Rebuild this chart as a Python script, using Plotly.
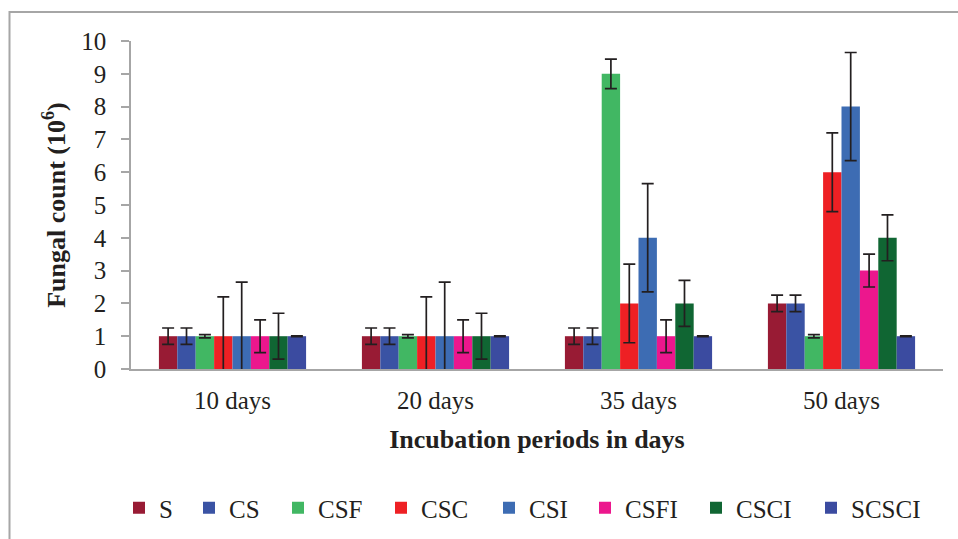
import plotly.graph_objects as go

categories = ["10 days", "20 days", "35 days", "50 days"]
series_names = ["S", "CS", "CSF", "CSC", "CSI", "CSFI", "CSCI", "SCSCI"]

S = [1, 1, 1, 2]
CS = [1, 1, 1, 2]
CSF = [1, 1, 9, 1]
CSC = [1, 1, 2, 6]
CSI = [1, 1, 4, 8]
CSFI = [1, 1, 1, 3]
CSCI = [1, 1, 2, 4]
SCSCI = [1, 1, 1, 1]

S_err = [0.25, 0.25, 0.25, 0.25]
CS_err = [0.25, 0.25, 0.25, 0.25]
CSF_err = [0.05, 0.05, 0.45, 0.05]
CSC_err = [1.2, 1.2, 1.2, 1.2]
CSI_err = [1.65, 1.65, 1.65, 1.65]
CSFI_err = [0.5, 0.5, 0.5, 0.5]
CSCI_err = [0.7, 0.7, 0.7, 0.7]
SCSCI_err = [0.01, 0.01, 0.01, 0.01]

values = [S, CS, CSF, CSC, CSI, CSFI, CSCI, SCSCI]
errors = [S_err, CS_err, CSF_err, CSC_err, CSI_err, CSFI_err, CSCI_err, SCSCI_err]
colors = ["#981B34", "#3A53A4", "#41B763", "#EE2024", "#3D6CB3", "#EC178D", "#106633", "#3B4BA0"]

FONT = "Liberation Serif"
TXT = "#231F20"

# layout geometry (pixels)
W, H = 958, 539
PL, PR, PT, PB = 131, 15, 41, 170
pw = W - PL - PR
ph = H - PT - PB
legend_left_px = [137, 207, 296, 399, 507, 603, 714, 829]

fig = go.Figure()
for i, name in enumerate(series_names):
    lg = f"legend{i+2}"
    fig.add_trace(go.Bar(
        x=categories, y=values[i], name=name,
        marker=dict(color=colors[i], line=dict(width=0)),
        error_y=dict(type="data", array=errors[i], visible=True,
                     color=TXT, thickness=1.7, width=6),
        legend=lg, showlegend=True,
    ))

layout_legends = {}
for i, px in enumerate(legend_left_px):
    key = f"legend{i+2}"
    layout_legends[key] = dict(
        x=(px - 18 - PL) / pw, xanchor="left",
        y=(PT + ph - 508) / ph, yanchor="middle",
        orientation="h", bgcolor="rgba(0,0,0,0)", borderwidth=0,
        font=dict(family=FONT, size=25, color=TXT),
    )

fig.update_layout(
    width=W, height=H,
    margin=dict(l=PL, r=PR, t=PT, b=PB, autoexpand=False),
    paper_bgcolor="white", plot_bgcolor="white",
    barmode="group", bargap=0.275, bargroupgap=0,
    font=dict(family=FONT, color=TXT),
    showlegend=True,
    **layout_legends,
    shapes=[dict(type="rect", xref="paper", yref="paper",
                 x0=(9.5 - PL) / pw, x1=(W + 20 - PL) / pw,
                 y0=(PT + ph - (H + 20)) / ph, y1=(PT + ph - 12) / ph,
                 line=dict(color="#A6A6A6", width=2), layer="below")],
)

fig.update_xaxes(
    showline=True, linecolor="#A6A6A6", linewidth=1.7,
    ticks="", showgrid=False, zeroline=False,
    tickfont=dict(family=FONT, size=25, color=TXT),
    ticklabelstandoff=8,
    title=dict(text="<b>Incubation periods in days</b>",
               font=dict(family=FONT, size=26, color=TXT), standoff=17),
)
fig.update_yaxes(
    range=[0, 10], dtick=1, showline=True, linecolor="#A6A6A6", linewidth=1.7,
    ticks="outside", ticklen=8, tickcolor="#A6A6A6", tickwidth=1.7,
    showgrid=False, zeroline=False,
    tickfont=dict(family=FONT, size=25, color=TXT),
    ticklabelstandoff=10,
    title=dict(text="<b>Fungal count (10<sup>6</sup>)</b>",
               font=dict(family=FONT, size=26, color=TXT), standoff=8),
)

fig.write_html("out.html")
